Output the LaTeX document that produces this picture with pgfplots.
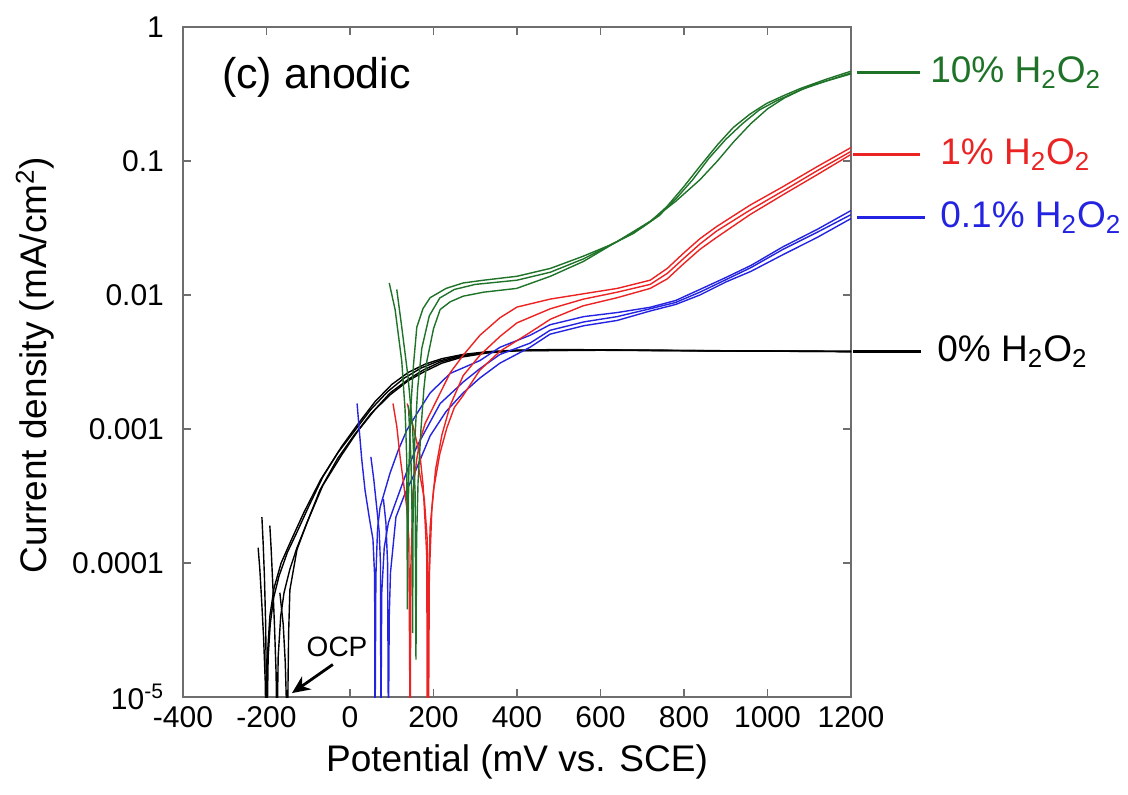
\documentclass[border=0pt]{standalone}
\usepackage{fontspec}
\setmainfont{Liberation Sans}
\usepackage{pgfplots}
\pgfplotsset{compat=1.18}
\usetikzlibrary{calc,arrows.meta}
\definecolor{cgreen}{RGB}{30,115,40}
\definecolor{cred}{RGB}{235,35,35}
\definecolor{cblue}{RGB}{35,35,225}
\definecolor{axisgray}{RGB}{110,110,110}
\begin{document}
\begin{tikzpicture}
\begin{axis}[
 name=ax,
 width=334pt, height=335pt, scale only axis,
 xmin=-400, xmax=1200, ymin=1e-5, ymax=1, ymode=log,
 xtick={-400,-200,0,200,400,600,800,1000,1200},
 xticklabels={-400,-200,0,200,400,600,800,1000,1200},
 ytick={1e-5,1e-4,1e-3,1e-2,1e-1,1},
 yticklabels={10\textsuperscript{-5},0.0001,0.001,0.01,0.1,1},
 yminorticks=false, xminorticks=false,
 tick align=inside, major tick length=4pt,
 axis line style={draw=axisgray, line width=0.8pt},
 every tick/.style={draw=axisgray, line width=0.7pt},
 tick label style={font=\fontsize{15}{18}\selectfont, text=black},
 xticklabel style={yshift=-1pt},
 yticklabel style={xshift=-6pt},
 xlabel={Potential (mV vs. SCE)},
 ylabel={Current density (mA/cm\textsuperscript{2})},
 label style={font=\fontsize{18.5}{22}\selectfont},
 xlabel style={at={(axis description cs:0.5,-0.097)}, anchor=center},
 ylabel style={at={(axis description cs:-0.2216,0.4955)}, anchor=center},
 clip mode=individual,
 every axis plot/.append style={line width=0.7pt, mark=none},
]
% ---------------- 0% H2O2 (black)
\addplot[black] coordinates {(-211,2.2e-4)(-208,1.4e-4)(-205,8e-5)(-202,3.5e-5)(-199,5e-6)(-196,2e-5)(-191,3.5e-5)(-183,5.5e-5)(-170,8e-5)(-150,1.2e-4)(-127,1.7e-4)(-100,2.6e-4)(-65,4.4e-4)(-20,7.4e-4)(20,1.1e-3)(60,1.6e-3)(100,2.15e-3)(140,2.65e-3)(180,3.05e-3)(220,3.35e-3)(270,3.6e-3)(330,3.78e-3)(400,3.88e-3)(500,3.92e-3)(700,3.88e-3)(900,3.82e-3)(1200,3.8e-3)};
\addplot[black] coordinates {(-192,1.9e-4)(-189,1.3e-4)(-185,7e-5)(-181,3.5e-5)(-177,1.5e-5)(-175,5e-6)(-172,2e-5)(-166,4e-5)(-158,6e-5)(-144,9e-5)(-127,1.3e-4)(-103,2.0e-4)(-65,3.8e-4)(-20,6.4e-4)(17,9.5e-4)(60,1.4e-3)(96,1.86e-3)(140,2.35e-3)(175,2.75e-3)(216,3.16e-3)(270,3.5e-3)(330,3.72e-3)(400,3.85e-3)(500,3.9e-3)(800,3.85e-3)(1200,3.78e-3)};
\addplot[black] coordinates {(-220,1.3e-4)(-216,9e-5)(-212,5.5e-5)(-207,2.8e-5)(-203,1.3e-5)(-201,5e-6)(-198,2e-5)(-192,4e-5)(-182,6.5e-5)(-165,1e-4)(-140,1.5e-4)(-110,2.4e-4)(-70,4.2e-4)(-30,6.6e-4)(10,9.6e-4)(50,1.4e-3)(90,1.9e-3)(130,2.4e-3)(170,2.85e-3)(210,3.2e-3)(260,3.5e-3)(330,3.74e-3)(400,3.85e-3)(600,3.88e-3)(1200,3.8e-3)};
\addplot[black] coordinates {(-168,6e-5)(-160,3.5e-5)(-155,1.8e-5)(-150,5e-6)(-147,3e-5)(-144,6.3e-5)(-127,1.26e-4)(-103,2e-4)(-72,3.5e-4)(-30,6e-4)(10,9e-4)(50,1.3e-3)(96,1.8e-3)(140,2.3e-3)(180,2.7e-3)(220,3.1e-3)(270,3.45e-3)(330,3.7e-3)(400,3.84e-3)(600,3.87e-3)(1200,3.78e-3)};
% ---------------- 0.1% H2O2 (blue)
\addplot[cblue] coordinates {(17,1.55e-3)(22,1.0e-3)(28,6e-4)(36,3.5e-4)(46,2.2e-4)(55,1.5e-4)(59,8e-5)(60,5e-6)(62,8e-5)(66,1.8e-4)(72,2.6e-4)(84,3.5e-4)(96,4.7e-4)(116,7e-4)(136,9.8e-4)(160,1.3e-3)(192,1.86e-3)(240,2.6e-3)(311,3.24e-3)(359,4.07e-3)(431,5.0e-3)(479,6.0e-3)(560,6.9e-3)(640,7.4e-3)(719,8.1e-3)(780,9.1e-3)(838,1.1e-2)(900,1.35e-2)(960,1.66e-2)(1037,2.29e-2)(1120,3.1e-2)(1200,4.27e-2)};
\addplot[cblue] coordinates {(50,6.2e-4)(57,4.2e-4)(64,2.6e-4)(70,1.7e-4)(73,1e-4)(74,5e-6)(76,6e-5)(82,1.3e-4)(92,2e-4)(105,2.6e-4)(120,3.5e-4)(140,5.2e-4)(160,7.4e-4)(190,1.1e-3)(216,1.55e-3)(271,2.24e-3)(311,2.82e-3)(359,3.6e-3)(431,4.37e-3)(479,5.45e-3)(560,6.3e-3)(640,6.9e-3)(719,7.9e-3)(780,8.8e-3)(838,1.05e-2)(900,1.3e-2)(960,1.6e-2)(1037,2.19e-2)(1120,2.95e-2)(1200,3.98e-2)};
\addplot[cblue] coordinates {(80,3e-4)(86,2e-4)(90,1e-4)(92,5e-6)(94,4e-5)(97,8.5e-5)(110,2.2e-4)(130,3.2e-4)(151,4.4e-4)(192,8.9e-4)(230,1.35e-3)(271,1.86e-3)(311,2.4e-3)(359,3.1e-3)(431,4.07e-3)(479,5.1e-3)(560,5.9e-3)(640,6.46e-3)(719,7.6e-3)(780,8.5e-3)(838,1.0e-2)(900,1.25e-2)(960,1.5e-2)(1037,2.0e-2)(1120,2.7e-2)(1200,3.72e-2)};
% ---------------- 1% H2O2 (red)
\addplot[cred] coordinates {(103,1.55e-3)(112,1.05e-3)(120,6.2e-4)(128,4e-4)(136,2.6e-4)(141,1.5e-4)(144,5e-6)(146,1e-4)(151,3.5e-4)(160,6e-4)(168,8.3e-4)(180,1.1e-3)(199,1.45e-3)(240,2.63e-3)(271,3.55e-3)(311,5.0e-3)(359,6.76e-3)(400,8.13e-3)(480,9.33e-3)(558,1.02e-2)(640,1.12e-2)(719,1.29e-2)(760,1.58e-2)(798,2.04e-2)(838,2.63e-2)(878,3.24e-2)(958,4.68e-2)(1038,6.46e-2)(1120,9.12e-2)(1200,0.126)};
\addplot[cred] coordinates {(137,1.55e-3)(148,1.15e-3)(158,8.5e-4)(168,6.2e-4)(175,3.8e-4)(180,2e-4)(184,1.1e-4)(185,5e-6)(187,5e-5)(192,1.86e-4)(200,3.5e-4)(215,6.5e-4)(232,1.02e-3)(250,1.45e-3)(271,1.78e-3)(311,2.75e-3)(359,3.8e-3)(431,5.25e-3)(480,6.6e-3)(558,8.3e-3)(640,9.55e-3)(719,1.12e-2)(760,1.32e-2)(798,1.7e-2)(838,2.19e-2)(878,2.69e-2)(958,3.98e-2)(1038,5.62e-2)(1120,7.94e-2)(1200,0.112)};
\addplot[cred] coordinates {(165,5e-4)(178,3e-4)(185,1.5e-4)(188,5e-6)(190,8e-5)(196,2.5e-4)(205,5e-4)(220,9e-4)(240,1.5e-3)(271,2.5e-3)(311,3.55e-3)(359,4.9e-3)(400,6.2e-3)(480,7.9e-3)(558,9.3e-3)(640,1.05e-2)(719,1.2e-2)(760,1.45e-2)(798,1.86e-2)(838,2.4e-2)(878,3.0e-2)(958,4.3e-2)(1038,6.0e-2)(1120,8.5e-2)(1200,0.118)};
% ---------------- 10% H2O2 (green)
\addplot[cgreen] coordinates {(94,1.23e-2)(108,7.8e-3)(124,3.2e-3)(132,1.38e-3)(136,5.9e-4)(137.5,4.5e-5)(138,1e-4)(141,5e-4)(146,1.5e-3)(152,3e-3)(160,5.75e-3)(175,7.94e-3)(192,9.55e-3)(230,1.12e-2)(271,1.23e-2)(320,1.29e-2)(400,1.38e-2)(480,1.58e-2)(559,1.95e-2)(620,2.34e-2)(679,2.88e-2)(720,3.55e-2)(759,4.57e-2)(800,6.46e-2)(838,9.12e-2)(880,0.132)(918,0.178)(958,0.224)(998,0.269)(1040,0.309)(1078,0.347)(1140,0.407)(1200,0.468)};
\addplot[cgreen] coordinates {(140,1.5e-3)(146,6e-4)(149,2e-4)(150,3e-5)(151,2e-4)(155,8e-4)(162,2e-3)(172,4e-3)(190,7e-3)(215,9.5e-3)(250,1.1e-2)(300,1.2e-2)(400,1.29e-2)(480,1.48e-2)(559,1.86e-2)(640,2.5e-2)(700,3.2e-2)(740,3.9e-2)(780,5.2e-2)(820,7.2e-2)(860,0.105)(900,0.145)(940,0.19)(980,0.24)(1020,0.28)(1080,0.34)(1140,0.395)(1200,0.455)};
\addplot[cgreen] coordinates {(112,1.1e-2)(124,5.75e-3)(139,2.45e-3)(150,1.02e-3)(156,3.3e-4)(158,1.9e-5)(159.5,1.5e-4)(163,4e-4)(170,1e-3)(177,2e-3)(184,3.2e-3)(200,5.6e-3)(216,7.8e-3)(240,8.9e-3)(271,9.8e-3)(320,1.05e-2)(399,1.12e-2)(480,1.38e-2)(559,1.78e-2)(640,2.51e-2)(719,3.55e-2)(780,5.0e-2)(838,7.24e-2)(880,0.1)(918,0.138)(960,0.19)(1000,0.245)(1040,0.295)(1100,0.363)(1200,0.447)};
% ---------------- annotations
\node[anchor=west, inner sep=0pt, font=\fontsize{21.5}{25}\selectfont] at (rel axis cs:0.058,0.925) {(c) anodic};
\node[inner sep=0pt, font=\fontsize{14}{17}\selectfont] at (axis cs:-31,2.35e-5) {OCP};
\draw[-{Stealth[length=9pt,width=8pt]}, line width=1.4pt] (axis cs:-41,1.75e-5) -- (axis cs:-139,1.07e-5);
\draw[cgreen, line width=1.5pt] (axis cs:1214,0.454) -- (axis cs:1365,0.454);
\node[anchor=west, inner sep=0pt, text=cgreen, font=\fontsize{18.5}{22}\selectfont] at (axis cs:1389,0.454) {10\% H\textsubscript{2}O\textsubscript{2}};
\draw[cred, line width=1.5pt] (axis cs:1205,0.111) -- (axis cs:1365,0.111);
\node[anchor=west, inner sep=0pt, text=cred, font=\fontsize{18.5}{22}\selectfont] at (axis cs:1413,0.111) {1\% H\textsubscript{2}O\textsubscript{2}};
\draw[cblue, line width=1.5pt] (axis cs:1214,0.0376) -- (axis cs:1377,0.0376);
\node[anchor=west, inner sep=0pt, text=cblue, font=\fontsize{18.5}{22}\selectfont] at (axis cs:1413,0.0376) {0.1\% H\textsubscript{2}O\textsubscript{2}};
\draw[black, line width=1.5pt] (axis cs:1205,0.00376) -- (axis cs:1368,0.00376);
\node[anchor=west, inner sep=0pt, text=black, font=\fontsize{18.5}{22}\selectfont] at (axis cs:1406,0.00376) {0\% H\textsubscript{2}O\textsubscript{2}};
\end{axis}
\pgfresetboundingbox
\path ($(ax.south west)+(-91.5pt,-48.5pt)$) rectangle ($(ax.north east)+(138.5pt,13.5pt)$);
\end{tikzpicture}
\end{document}
